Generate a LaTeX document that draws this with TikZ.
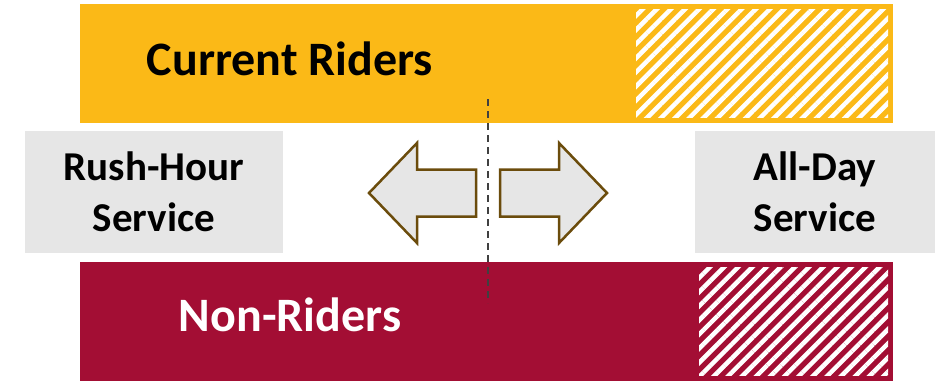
\documentclass[tikz,border=0pt]{standalone}
\usepackage{fontspec}
\setmainfont{Carlito}
\usetikzlibrary{patterns.meta,positioning}

\definecolor{riderorange}{HTML}{FBB917}
\definecolor{nonred}{HTML}{A30E34}
\definecolor{boxgrey}{HTML}{E6E6E6}
\definecolor{arrowbrown}{HTML}{6B4C0C}
\definecolor{splitgrey}{HTML}{404040}

\begin{document}
\begin{tikzpicture}[x=1pt,y=-1pt,
  bar/.style={anchor=north west,inner sep=0,minimum width=813pt,minimum height=119pt},
  hatch/.style={pattern={Lines[angle=45,distance=10pt,line width=4.5pt]},pattern color=white},
  svcbox/.style={fill=boxgrey,inner sep=0,minimum height=122pt,align=center,
    font=\bfseries\fontsize{41}{51}\selectfont},
  bartext/.style={anchor=base,inner sep=0,font=\bfseries\fontsize{48}{56}\selectfont},
  bigarrow/.style={draw=arrowbrown,fill=boxgrey,line width=2.5pt,line join=miter}]
  \useasboundingbox (0,0) rectangle (938,383);
  % rider groups
  \node[bar,fill=riderorange] (cur) at (80,4) {};
  \node[bar,fill=nonred] (non) at (80,262) {};
  \fill[hatch] (636,9) rectangle (888,117);
  \fill[hatch] (699,267) rectangle (888,375);
  \node[bartext,text=black] (curtxt) at (290,75) {Current Riders};
  \node[bartext,text=white] (nontxt) at (290,331) {Non-Riders};
  % service types
  \node[svcbox,minimum width=258pt] (rush) at (154,192) {Rush-Hour\\Service};
  \node[svcbox,minimum width=240pt] (allday) at (815,191.5) {All-Day\\Service};
  % split
  \coordinate (mid) at (488,193);
  \coordinate (splittop) at (488,99);
  \coordinate (splitbot) at (488,303);
  \draw[splitgrey,line width=2pt,dash pattern=on 7pt off 5pt] (splittop) -- (splitbot);
  \foreach \s in {-1,1} {
    \begin{scope}[shift={(mid)},xscale=\s]
      \draw[bigarrow] (12,0) -- (12,-23.5) -- (71,-23.5) -- (71,-50) -- (119,0)
        -- (71,50) -- (71,23.5) -- (12,23.5) -- cycle;
    \end{scope}
  }
\end{tikzpicture}
\end{document}
